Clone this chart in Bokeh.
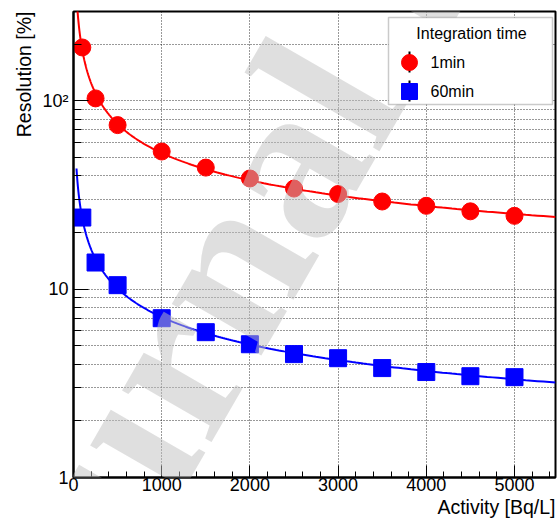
import numpy as np
from bokeh.plotting import figure
from bokeh.models import Range1d, FixedTicker, Label, BoxAnnotation, LinearScale, Title
from bokeh.embed import file_html
from bokeh.resources import INLINE

# ---------------- data ----------------
activity = [100, 250, 500, 1000, 1500, 2000, 2500, 3000, 3500, 4000, 4500, 5000]
res_1min = [192, 103, 74.3, 53.8, 44.2, 38.7, 34.2, 32.0, 29.2, 27.7, 25.9, 24.5]
res_60min = [24.0, 13.85, 10.5, 7.01, 5.91, 5.10, 4.52, 4.30, 3.81, 3.63, 3.45, 3.41]
series_labels = ["1min", "60min"]
series_colors = ["#ff0000", "#0000ff"]
series_markers = ["circle", "square"]
fit_range = [34, 5465]

x_ticks = [0, 1000, 2000, 3000, 4000, 5000]
x_minor = [200, 400, 600, 800, 1200, 1400, 1600, 1800, 2200, 2400, 2600, 2800,
           3200, 3400, 3600, 3800, 4200, 4400, 4600, 4800, 5200, 5400]
y_ticks = [1, 10, 100]
y_tick_labels = ["1", "10", "10²"]
y_minor = [2, 3, 4, 5, 6, 7, 8, 9, 20, 30, 40, 50, 60, 70, 80, 90, 200]
x_limits = [0, 5465]
y_limits = [1, 298]

legend_title = "Integration time"
x_title = "Activity [Bq/L]"
y_title = "Resolution [%]"
watermark_text = "Journal Pre-proof"

# ---------------- layout ----------------
W, H = 558, 519
FL, FR, FT, FB = 73, 555, 11, 477
SANS = "Liberation Sans"

p = figure(width=W, height=H, x_range=Range1d(*x_limits), y_range=Range1d(*y_limits),
           y_axis_type="log", output_backend="svg", toolbar_location=None,
           min_border_left=FL, min_border_right=W - FR, min_border_top=FT,
           min_border_bottom=H - FB)
p.background_fill_color = "white"
p.border_fill_color = "white"
p.outline_line_color = "black"
p.outline_line_width = 2

# pixel helper ranges (frame-aligned, linear) for the legend symbols
p.extra_x_ranges = {"px": Range1d(FL, FR)}
p.extra_y_ranges = {"py": Range1d(FB, FT)}
p.extra_x_scales = {"px": LinearScale()}
p.extra_y_scales = {"py": LinearScale()}

# axes
p.xaxis.ticker = FixedTicker(ticks=x_ticks, minor_ticks=x_minor)
p.yaxis.ticker = FixedTicker(ticks=y_ticks, minor_ticks=y_minor)
p.yaxis.major_label_overrides = {t: s for t, s in zip(y_ticks, y_tick_labels)}
for ax in (p.xaxis[0], p.yaxis[0]):
    ax.axis_line_width = 2
    ax.axis_line_color = "black"
    ax.major_tick_out = 0
    ax.minor_tick_out = 0
    ax.major_tick_line_color = "black"
    ax.minor_tick_line_color = "black"
    ax.major_label_text_font = SANS
    ax.major_label_text_font_size = "18px"
    ax.major_label_text_color = "black"
p.xaxis.major_tick_in = 12
p.xaxis.minor_tick_in = 6
p.xaxis.major_label_standoff = 0
p.yaxis.major_tick_in = 15
p.yaxis.minor_tick_in = 8
p.yaxis.major_label_standoff = 5

# axis titles (ROOT style: flush with the axis end)
p.add_layout(Title(text=x_title, align="right", text_font=SANS, text_font_size="19.5px",
                   text_font_style="normal", text_color="black", standoff=0), "below")
p.add_layout(Title(text=y_title, align="right", text_font=SANS, text_font_size="19.5px",
                   text_font_style="normal", text_color="black", standoff=10), "left")

# grid
for g in (p.xgrid[0], p.ygrid[0]):
    g.grid_line_color = "black"
    g.grid_line_dash = "1 2"
    g.grid_line_alpha = 0.8
p.ygrid.minor_grid_line_color = "black"
p.ygrid.minor_grid_line_dash = "1 2"
p.ygrid.minor_grid_line_alpha = 0.8

# fits (log-log quadratic fit of the data) and points
lx = np.log10(activity)
xs = np.logspace(np.log10(fit_range[0]), np.log10(fit_range[1]), 400)
for ys, col, mk in zip([res_1min, res_60min], series_colors, series_markers):
    coef = np.polyfit(lx, np.log10(ys), 2)
    p.line(xs, 10 ** np.polyval(coef, np.log10(xs)), line_color=col, line_width=2)
    p.scatter(activity, ys, marker=mk, size=17, fill_color=col, line_color=col)

CU = dict(x_units="canvas", y_units="canvas")

# watermark (over data, under legend)
p.add_layout(Label(x=-33, y=712, text=watermark_text, angle=np.pi / 3,
                   text_font="Liberation Serif", text_font_style="bold",
                   text_font_size="225px", text_color="#c0c0c0", text_alpha=0.5,
                   text_align="left", text_baseline="middle", **CU))

# legend (drawn manually, ROOT style)
p.add_layout(BoxAnnotation(left=388, right=552, top=17, bottom=104, left_units="canvas",
                           right_units="canvas", top_units="canvas", bottom_units="canvas",
                           fill_color="white", fill_alpha=1.0, line_color="#505050",
                           line_width=1.5))
p.add_layout(Label(x=471, y=33, text=legend_title, text_font=SANS, text_font_size="16px",
                   text_color="black", text_align="center", text_baseline="middle",
                   level="overlay", **CU))
for i, (lab, col, mk) in enumerate(zip(series_labels, series_colors, series_markers)):
    yc = 62 + 29 * i
    p.segment(x0=[409], x1=[409], y0=[yc - 11], y1=[yc + 10], x_range_name="px",
              y_range_name="py", line_color="black", line_width=2, level="overlay")
    p.scatter(x=[409], y=[yc], x_range_name="px", y_range_name="py", marker=mk,
              size=16, fill_color=col, line_color=col, level="overlay")
    p.add_layout(Label(x=430, y=yc, text=lab, text_font=SANS, text_font_size="16px",
                       text_color="black", text_align="left", text_baseline="middle",
                       level="overlay", **CU))

open("out.html", "w").write(file_html(p, INLINE))
